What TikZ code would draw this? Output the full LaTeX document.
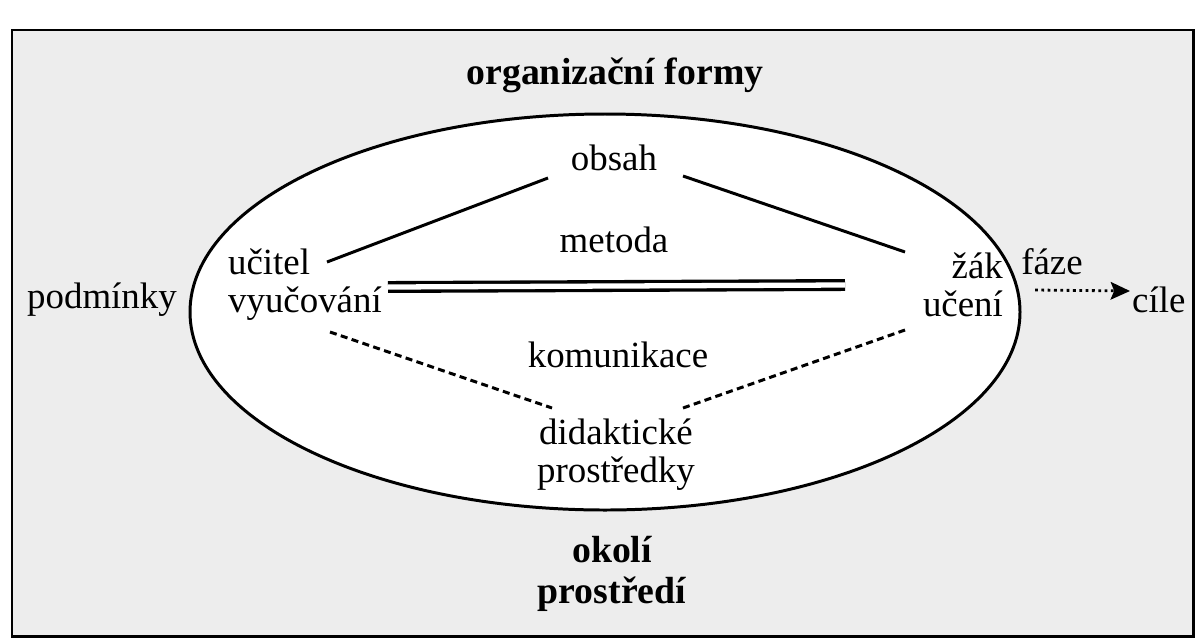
\documentclass[tikz,border=0pt]{standalone}
\usepackage{fontspec}
\setmainfont{Liberation Serif}
\usetikzlibrary{arrows.meta}

\tikzset{
  lbl/.style={font=\fontsize{21}{21.6}\selectfont, inner sep=1pt, align=center},
  bold lbl/.style={lbl, font=\fontsize{21.5}{23.5}\selectfont\bfseries},
  link/.style={line width=1.7pt},
  dashlink/.style={line width=1.7pt, dash pattern=on 4pt off 2.5pt},
}

\begin{document}
\begin{tikzpicture}[x=0.02cm,y=-0.02cm]
\useasboundingbox (0,0) rectangle (1199,643);
% frame and background
\draw[line width=1.7pt,fill=black!7] (12,30) rectangle (1193,636);
\draw[line width=1.7pt,fill=white] (605,312) ellipse [x radius=415, y radius=198];

% labels
\node[bold lbl] (forms) at (615,75) {organizační formy};
\node[bold lbl] (env) at (612,574) {okolí\\prostředí};
\node[lbl] (obsah) at (614,158) {obsah};
\node[lbl] (metoda) at (614,240) {metoda};
\node[lbl] (komun) at (618,355) {komunikace};
\node[lbl] (didakt) at (616,455) {didaktické\\prostředky};
\node[lbl, align=left, anchor=west] (ucitel) at (226,285) {učitel\\vyučování};
\node[lbl, align=right, anchor=east] (zak) at (1005,285) {žák\\učení};
\node[lbl] (podm) at (102,300) {podmínky};
\node[lbl] (faze) at (1052,262) {fáze};
\node[lbl, anchor=west] (cile) at (1130,300) {cíle};

% connectors
\draw[link] ([shift={(-66,20)}]obsah.center) -- ([shift={(101,-23)}]ucitel.west);
\draw[link] ([shift={(69,18)}]obsah.center) -- ([shift={(-100,-33)}]zak.east);
\draw[line width=1.9pt, double, double distance=3pt] ([shift={(162,2)}]ucitel.west) -- ([shift={(-160,0)}]zak.east);
\draw[dashlink] ([shift={(104,47)}]ucitel.west) -- ([shift={(-64,-47)}]didakt.center);
\draw[dashlink] ([shift={(67,-47)}]didakt.center) -- ([shift={(-100,45)}]zak.east);
\draw[line width=1.6pt, dotted, -{Stealth[length=11pt,width=10pt,inset=2pt]}] ([shift={(-17,28)}]faze.center) -- ([shift={(0,-9)}]cile.west);
\end{tikzpicture}
\end{document}
